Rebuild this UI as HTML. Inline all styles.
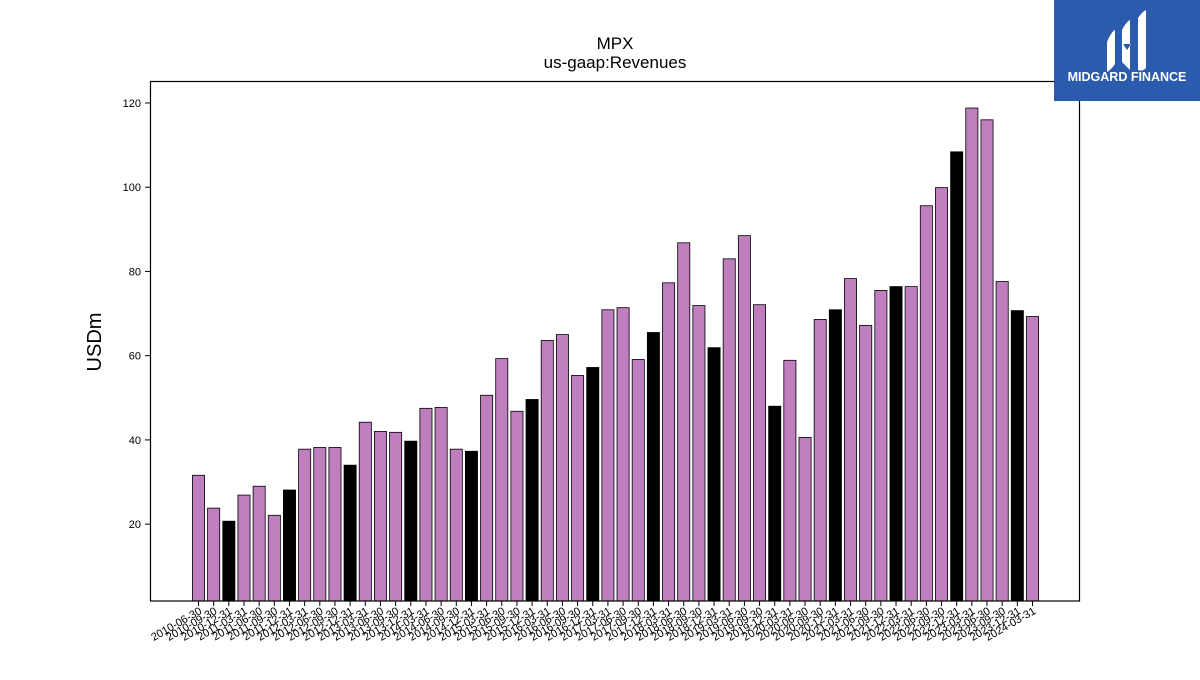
<!DOCTYPE html>
<html><head><meta charset="utf-8"><style>
body{margin:0;background:#fff;width:1200px;height:675px;overflow:hidden}
svg{font-family:"Liberation Sans","DejaVu Sans",sans-serif}
</style></head><body>
<svg id="chart" width="1200" height="675">
<text x="615" y="49" font-size="17" text-anchor="middle">MPX</text>
<text x="615" y="68" font-size="17" text-anchor="middle">us-gaap:Revenues</text>
<text transform="translate(101,342) rotate(-90)" font-size="20" text-anchor="middle">USDm</text>
<g id="bars"></g><g id="yticks"></g><g id="xticks"></g>
<rect x="150.5" y="81.5" width="929" height="519.5" fill="none" stroke="#000" stroke-width="1.2"/>
<g>
<rect x="1054" y="0" width="146" height="101" fill="#2a5bad"/>
<path d="M1107 42 q4-10 8-12 v34 q-4 6-8 8z" fill="#fff"/>
<path d="M1122 30 q4-8 8-10 v50 q-4-4-8-8z M1123 44 l4 6 4-6" fill="#fff"/>
<path d="M1138 18 q4-6 8-8 v58 q-4 4-8 2z" fill="#fff"/>
<text x="1127" y="81" font-size="12.5" font-weight="bold" fill="#fff" text-anchor="middle">MIDGARD FINANCE</text>
</g>
</svg>
<script>
const categories=[];
for(let y=2010;y<=2024;y++)for(const q of["03-31","06-30","09-30","12-31"]){const d=y+"-"+q;if(d>="2010-06-30"&&d<="2024-03-31")categories.push(d);}
const values=[31.6,23.8,20.7,26.9,29.0,22.1,28.1,37.8,38.2,38.2,34.0,44.2,42.0,41.8,39.7,47.5,47.7,37.8,37.3,50.6,59.3,46.8,49.6,63.6,65.0,55.3,57.2,70.9,71.4,59.1,65.5,77.3,86.8,71.9,61.9,83.0,88.5,72.1,48.0,58.9,40.6,68.6,70.9,78.3,67.2,75.5,76.4,76.4,95.6,99.9,108.4,118.8,116.0,77.6,70.7,69.3];
const yTicks=[20,40,60,80,100,120];
const NS="http://www.w3.org/2000/svg";
const yMin=1.75,yMax=125.1,plotTop=81.5,plotBot=601;
const ys=v=>plotBot-(v-yMin)/(yMax-yMin)*(plotBot-plotTop);
const x0=198.5,x1=1032.5;
const xs=i=>x0+i*(x1-x0)/(categories.length-1);
const step=(x1-x0)/(categories.length-1),bw=step*0.8;
const bars=document.getElementById('bars'),yt=document.getElementById('yticks'),xt=document.getElementById('xticks');
values.forEach((v,i)=>{
 const r=document.createElementNS(NS,'rect');
 r.setAttribute('x',xs(i)-bw/2);r.setAttribute('y',ys(v));r.setAttribute('width',bw);r.setAttribute('height',plotBot-ys(v));
 r.setAttribute('fill',categories[i].endsWith('12-31')?'#000':'#bf7fbf');r.setAttribute('stroke','#000');r.setAttribute('stroke-width','0.8');
 
 
 bars.appendChild(r);
});
yTicks.forEach(t=>{
 const l=document.createElementNS(NS,'line');
 l.setAttribute('x1',145);l.setAttribute('x2',150.5);l.setAttribute('y1',ys(t));l.setAttribute('y2',ys(t));l.setAttribute('stroke','#000');
 
 
 yt.appendChild(l);
 const s=document.createElementNS(NS,'text');
 s.setAttribute('x',141);s.setAttribute('y',ys(t)+4);s.setAttribute('font-size','11');s.setAttribute('text-anchor','end');s.textContent=t;
 
 
 yt.appendChild(s);
});
categories.forEach((c,i)=>{
 const x=xs(i);
 const l=document.createElementNS(NS,'line');
 l.setAttribute('x1',x);l.setAttribute('x2',x);l.setAttribute('y1',601);l.setAttribute('y2',606);l.setAttribute('stroke','#000');
 
 
 xt.appendChild(l);
 const s=document.createElementNS(NS,'text');
 s.setAttribute('transform','translate('+(x+4)+',613) rotate(-30)');s.setAttribute('font-size','11');s.setAttribute('text-anchor','end');s.textContent=c;
 
 
 xt.appendChild(s);
});
</script>
</body></html>
